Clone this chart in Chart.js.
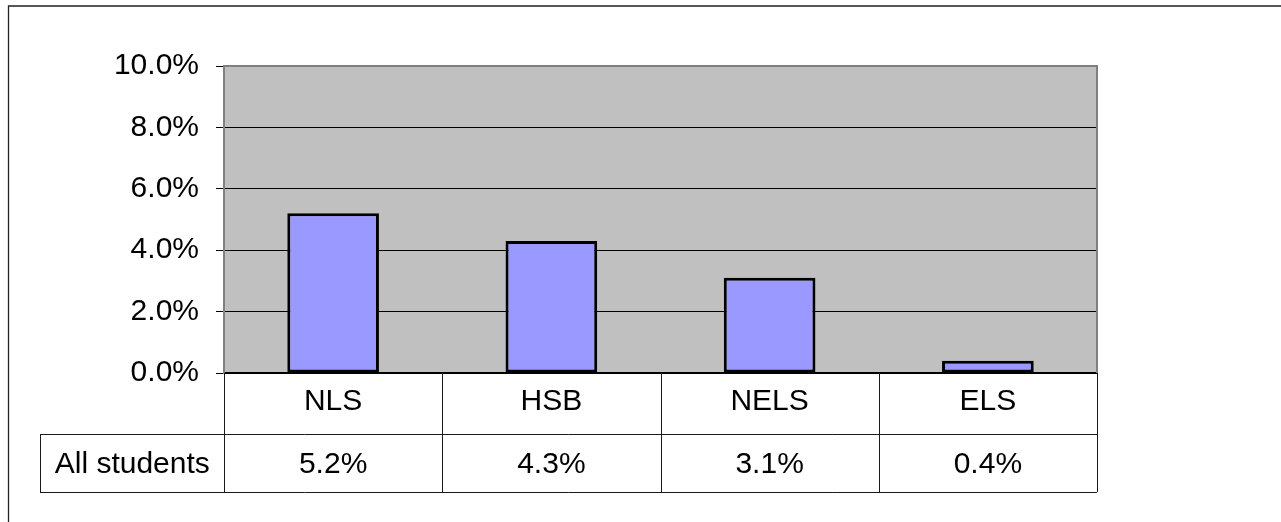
<!DOCTYPE html>
<html>
<head>
<meta charset="utf-8">
<script src="https://cdn.jsdelivr.net/npm/chart.js@4/dist/chart.umd.min.js"></script>
<style>
  html, body { margin: 0; padding: 0; background: #ffffff; }
  #c { display: block; }
</style>
</head>
<body>
<canvas id="c" width="1281" height="522"></canvas>
<script>
// ---- data ----
const categories = ['NLS', 'HSB', 'NELS', 'ELS'];
const seriesName = 'All students';
const allStudents = [5.2, 4.3, 3.1, 0.4];
const yTickValues = [0, 2, 4, 6, 8, 10];

const FONT_FAMILY = "'Liberation Sans', Arial, Helvetica, sans-serif";
const FONT_SIZE = 30;

function fmtPct(v) { return v.toFixed(1) + '%'; }

const bgPlugin = {
  id: 'bgPlugin',
  beforeDraw(chart) {
    const { ctx, chartArea: a } = chart;
    ctx.save();
    ctx.fillStyle = '#ffffff';
    ctx.fillRect(0, 0, chart.width, chart.height);
    ctx.fillStyle = '#c0c0c0';
    ctx.fillRect(a.left, a.top, a.right - a.left, a.bottom - a.top);
    ctx.restore();
  },
  afterDraw(chart) {
    const { ctx, chartArea: a } = chart;
    const xs = chart.scales.x;
    ctx.save();
    // plot area top / right border (gray)
    ctx.strokeStyle = '#808080';
    ctx.lineWidth = 2;
    ctx.beginPath();
    ctx.moveTo(a.left, a.top);
    ctx.lineTo(a.right, a.top);
    ctx.lineTo(a.right, a.bottom);
    ctx.stroke();

    // data table
    const n = categories.length;
    const colW = (a.right - a.left) / n;
    const row1Top = a.bottom;
    const row1Bot = a.bottom + 61;
    const row2Bot = a.bottom + 119;
    const labelLeft = 40.5;

    ctx.strokeStyle = '#1a1a1a';
    ctx.lineWidth = 1;
    ctx.beginPath();
    // vertical column lines
    for (let i = 0; i <= n; i++) {
      const x = Math.round(a.left + i * colW) + 0.5;
      ctx.moveTo(x, row1Top);
      ctx.lineTo(x, row2Bot);
    }
    // horizontal lines
    ctx.moveTo(labelLeft, row1Bot + 0.5);
    ctx.lineTo(a.right, row1Bot + 0.5);
    ctx.moveTo(labelLeft, row2Bot + 0.5);
    ctx.lineTo(a.right, row2Bot + 0.5);
    // series name cell left edge
    ctx.moveTo(labelLeft, row1Bot);
    ctx.lineTo(labelLeft, row2Bot + 1);
    ctx.stroke();

    ctx.fillStyle = '#000000';
    ctx.font = FONT_SIZE + 'px ' + FONT_FAMILY;
    ctx.textAlign = 'center';
    ctx.textBaseline = 'middle';
    for (let i = 0; i < n; i++) {
      const cx = xs.getPixelForValue(i);
      ctx.fillText(categories[i], cx, (row1Top + row1Bot) / 2 - 2);
      ctx.fillText(fmtPct(allStudents[i]), cx, (row1Bot + row2Bot) / 2 + 2);
    }
    ctx.fillText(seriesName, (labelLeft + a.left) / 2, (row1Bot + row2Bot) / 2 + 2);

    // outer frame (left and top)
    ctx.strokeStyle = '#222222';
    ctx.lineWidth = 1.3;
    ctx.beginPath();
    ctx.moveTo(8.5, chart.height);
    ctx.lineTo(8.5, 6);
    ctx.lineTo(chart.width, 6);
    ctx.stroke();
    ctx.restore();
  }
};

new Chart(document.getElementById('c'), {
  type: 'bar',
  data: {
    labels: categories,
    datasets: [{
      label: seriesName,
      data: allStudents,
      backgroundColor: '#9999ff',
      borderColor: '#000000',
      borderWidth: 3,
      borderSkipped: false,
      categoryPercentage: 1.0,
      barPercentage: 0.42
    }]
  },
  options: {
    responsive: false,
    animation: false,
    devicePixelRatio: 1,
    layout: { padding: { top: 66, right: 184, left: 0, bottom: 0 } },
    plugins: {
      legend: { display: false },
      tooltip: { enabled: false },
      title: { display: false }
    },
    scales: {
      x: {
        type: 'category',
        grid: { display: false },
        border: { display: true, color: '#000000', width: 2 },
        ticks: { display: false },
        afterFit(scale) { scale.height = 149; }
      },
      y: {
        type: 'linear',
        min: 0,
        max: 10,
        afterBuildTicks(scale) { scale.ticks = yTickValues.map(v => ({ value: v })); },
        grid: {
          color: '#000000',
          lineWidth: 1,
          drawTicks: true,
          tickLength: 8,
          tickColor: '#000000'
        },
        border: { display: true, color: '#808080', width: 2 },
        ticks: {
          padding: 17,
          color: '#000000',
          font: { family: FONT_FAMILY, size: FONT_SIZE },
          callback: (v) => fmtPct(v)
        },
        afterFit(scale) { scale.width = 224; }
      }
    }
  },
  plugins: [bgPlugin]
});
</script>
</body>
</html>
